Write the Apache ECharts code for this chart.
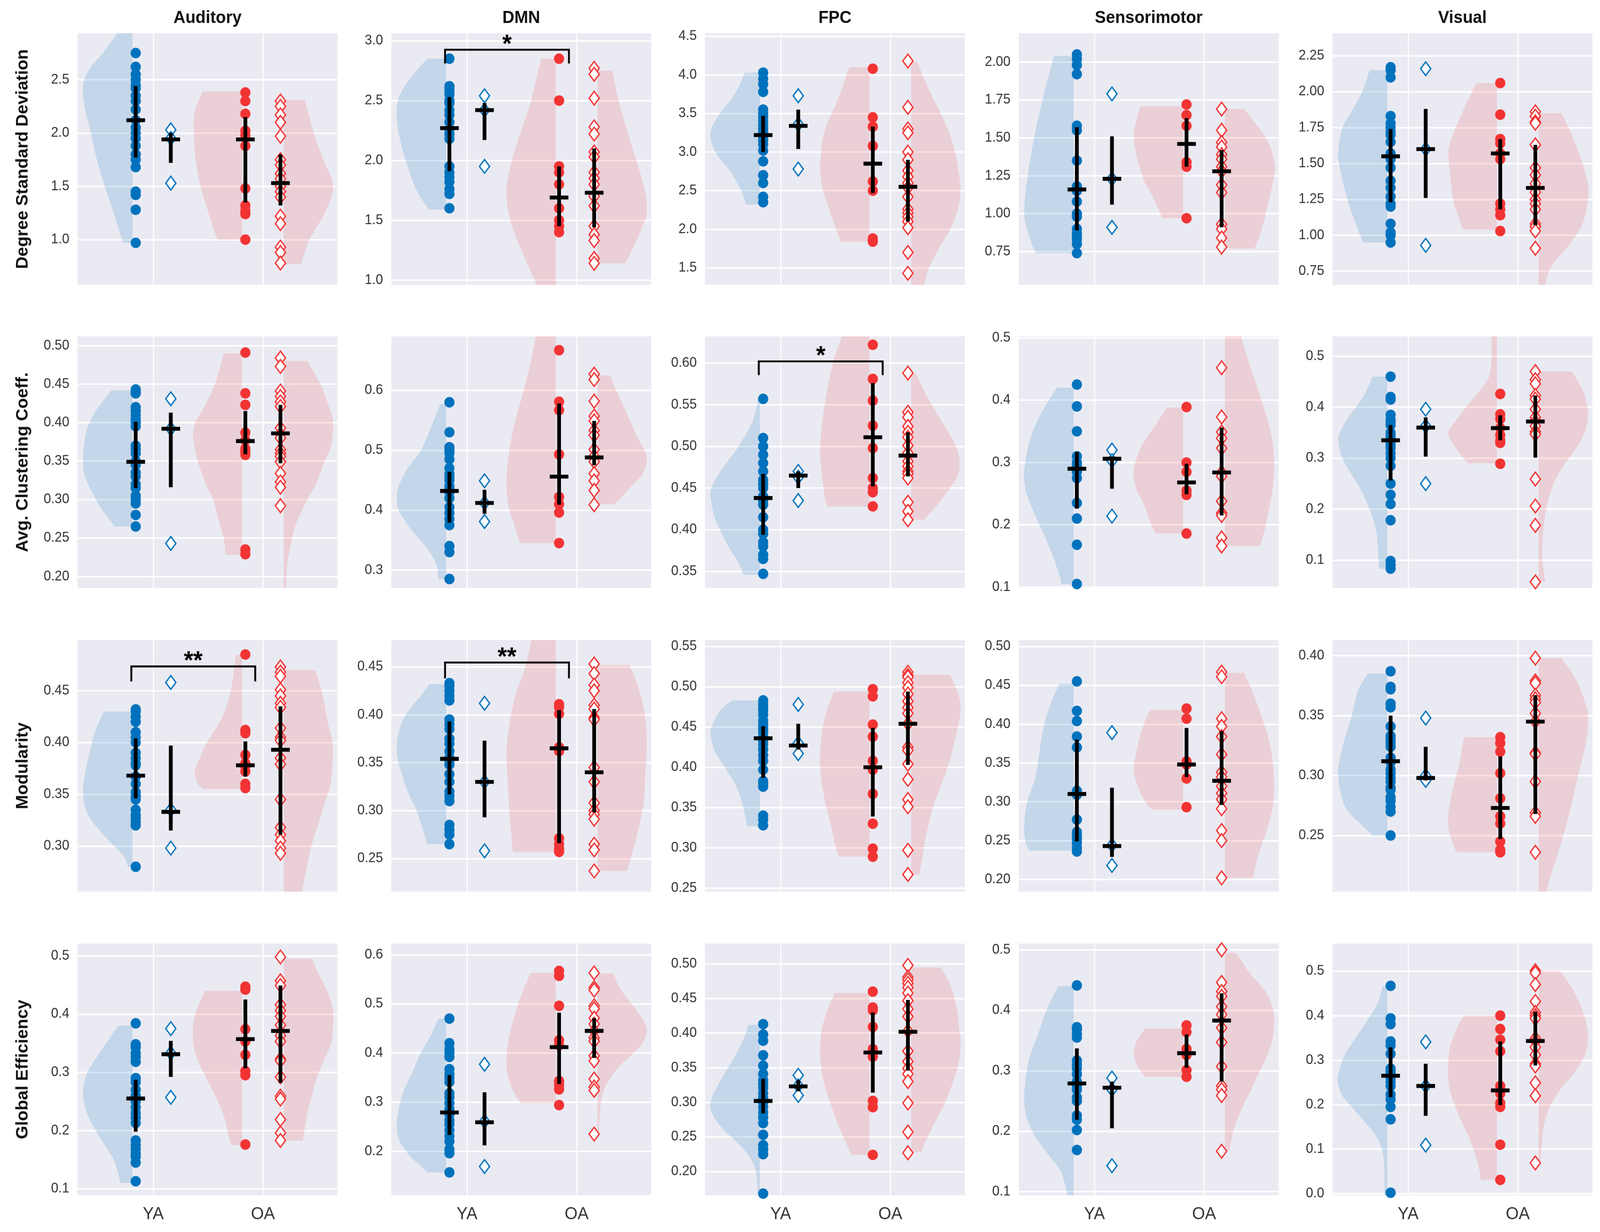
<!DOCTYPE html>
<html><head><meta charset="utf-8">
<script src="https://cdn.jsdelivr.net/npm/echarts@6/dist/echarts.min.js"></script>
<style>html,body{margin:0;padding:0;background:#fff;overflow:hidden}#c{width:4249px;height:3154px;transform-origin:0 0}</style>
</head><body><div id="c"></div>
<script>
// ---------- DATA (panel index p = row*5 + col) ----------
const networks = ['Auditory','DMN','FPC','Sensorimotor','Visual'];
const metrics = ['Degree Standard Deviation','Avg. Clustering Coeff.','Modularity','Global Efficiency'];
const groupLabels = ['YA','OA'];

const yRange = [
 [0.576,2.936],[0.96,3.063],[1.28,4.54],[0.531,2.19],[0.655,2.407],
 [0.185,0.512],[0.27,0.69],[0.33,0.632],[0.0986,0.5023],[0.045,0.539],
 [0.256,0.499],[0.2155,0.478],[0.2457,0.558],[0.1843,0.5083],[0.2032,0.4131],
 [0.089,0.521],[0.1106,0.6227],[0.1657,0.5295],[0.0943,0.5102],[-0.0035,0.562]];
const yTicks = [
 [1.0,1.5,2.0,2.5],[1.0,1.5,2.0,2.5,3.0],[1.5,2.0,2.5,3.0,3.5,4.0,4.5],[0.75,1.0,1.25,1.5,1.75,2.0],[0.75,1.0,1.25,1.5,1.75,2.0,2.25],
 [0.2,0.25,0.3,0.35,0.4,0.45,0.5],[0.3,0.4,0.5,0.6],[0.35,0.4,0.45,0.5,0.55,0.6],[0.1,0.2,0.3,0.4,0.5],[0.1,0.2,0.3,0.4,0.5],
 [0.3,0.35,0.4,0.45],[0.25,0.3,0.35,0.4,0.45],[0.25,0.3,0.35,0.4,0.45,0.5,0.55],[0.2,0.25,0.3,0.35,0.4,0.45,0.5],[0.25,0.3,0.35,0.4],
 [0.1,0.2,0.3,0.4,0.5],[0.2,0.3,0.4,0.5,0.6],[0.2,0.25,0.3,0.35,0.4,0.45,0.5],[0.1,0.2,0.3,0.4,0.5],[0.0,0.1,0.2,0.3,0.4,0.5]];
const yDecimals = [1,1,1,2,2, 2,1,2,1,1, 2,2,2,2,2, 1,1,2,1,1];

const yaCircles = [
 [2.75,2.62,2.55,2.5,2.45,2.42,2.35,2.3,2.22,2.12,2.05,2.0,1.95,1.88,1.8,1.75,1.68,1.45,1.42,1.28,0.97],
 [2.85,2.62,2.6,2.58,2.55,2.5,2.48,2.42,2.38,2.32,2.26,2.22,2.18,1.95,1.9,1.86,1.82,1.76,1.72,1.6],
 [4.03,3.95,3.88,3.78,3.55,3.5,3.45,3.4,3.35,3.3,3.25,3.2,3.15,3.1,3.02,2.88,2.7,2.6,2.42,2.35],
 [2.05,2.02,1.98,1.92,1.58,1.55,1.35,1.18,1.15,1.08,1.0,0.98,0.9,0.87,0.85,0.83,0.8,0.74],
 [2.17,2.15,2.1,1.83,1.78,1.75,1.72,1.7,1.65,1.57,1.53,1.47,1.38,1.33,1.27,1.22,1.2,1.08,1.02,1.0,0.95],
 [0.443,0.44,0.438,0.42,0.415,0.41,0.405,0.4,0.395,0.37,0.365,0.36,0.35,0.345,0.335,0.33,0.32,0.315,0.305,0.3,0.295,0.28,0.265],
 [0.58,0.53,0.505,0.5,0.495,0.485,0.47,0.46,0.455,0.45,0.44,0.435,0.43,0.42,0.405,0.395,0.385,0.375,0.34,0.33,0.285],
 [0.557,0.51,0.5,0.49,0.48,0.47,0.46,0.455,0.45,0.44,0.435,0.43,0.415,0.4,0.395,0.385,0.38,0.37,0.365,0.347],
 [0.425,0.39,0.35,0.31,0.3,0.295,0.285,0.275,0.235,0.21,0.168,0.105],
 [0.46,0.42,0.415,0.385,0.375,0.37,0.365,0.35,0.345,0.34,0.33,0.325,0.32,0.31,0.3,0.285,0.25,0.228,0.21,0.178,0.098,0.09,0.083],
 [0.432,0.43,0.425,0.42,0.41,0.405,0.4,0.39,0.385,0.38,0.378,0.367,0.36,0.352,0.348,0.345,0.335,0.33,0.327,0.323,0.32,0.28],
 [0.433,0.43,0.425,0.42,0.415,0.395,0.39,0.385,0.375,0.37,0.362,0.355,0.352,0.348,0.338,0.33,0.32,0.315,0.31,0.285,0.28,0.275,0.265],
 [0.483,0.478,0.473,0.47,0.465,0.458,0.453,0.448,0.444,0.438,0.433,0.428,0.422,0.415,0.408,0.397,0.383,0.38,0.376,0.34,0.335,0.328],
 [0.455,0.417,0.404,0.384,0.37,0.314,0.309,0.277,0.261,0.256,0.252,0.247,0.241,0.236],
 [0.387,0.374,0.372,0.36,0.357,0.341,0.333,0.33,0.327,0.324,0.315,0.311,0.305,0.302,0.298,0.295,0.29,0.288,0.282,0.279,0.274,0.27,0.25],
 [0.384,0.348,0.343,0.333,0.326,0.318,0.29,0.283,0.27,0.26,0.25,0.24,0.23,0.222,0.213,0.183,0.175,0.168,0.16,0.155,0.145,0.113],
 [0.47,0.42,0.408,0.4,0.392,0.367,0.357,0.349,0.341,0.318,0.31,0.298,0.286,0.275,0.263,0.255,0.243,0.231,0.22,0.204,0.196,0.157],
 [0.413,0.398,0.389,0.368,0.353,0.341,0.332,0.327,0.321,0.313,0.307,0.3,0.293,0.285,0.278,0.27,0.253,0.238,0.232,0.225,0.168],
 [0.441,0.372,0.368,0.361,0.355,0.317,0.31,0.304,0.294,0.282,0.275,0.269,0.256,0.25,0.226,0.219,0.202,0.169],
 [0.467,0.394,0.381,0.342,0.333,0.314,0.281,0.275,0.272,0.265,0.26,0.251,0.242,0.223,0.212,0.195,0.167,0.002]];

const yaDiamonds = [
 [2.03,1.95,1.53],[2.54,2.42,1.95],[3.73,3.36,2.78],[1.79,1.23,0.91],[2.16,1.6,0.93],
 [0.431,0.392,0.243],[0.449,0.412,0.381],[0.47,0.463,0.435],[0.32,0.303,0.214],[0.396,0.363,0.25],
 [0.458,0.335,0.298],[0.412,0.33,0.258],[0.478,0.43,0.417],[0.389,0.244,0.218],[0.348,0.3,0.296],
 [0.375,0.333,0.257],[0.377,0.261,0.169],[0.339,0.324,0.31],[0.288,0.269,0.143],[0.341,0.242,0.109]];

const oaCircles = [
 [2.38,2.30,2.18,2.02,1.98,1.88,1.48,1.32,1.27,1.24,1.00],
 [2.85,2.5,1.95,1.9,1.8,1.6,1.5,1.45,1.4],
 [4.08,3.45,3.33,3.08,2.62,2.5,1.88,1.84],
 [1.72,1.65,1.58,1.34,1.31,0.97],
 [2.06,1.84,1.67,1.64,1.57,1.53,1.22,1.18,1.14,1.03],
 [0.491,0.438,0.423,0.387,0.377,0.366,0.362,0.358,0.235,0.229],
 [0.667,0.581,0.567,0.493,0.422,0.41,0.396,0.345],
 [0.622,0.581,0.555,0.525,0.498,0.462,0.45,0.445,0.428],
 [0.389,0.3,0.285,0.255,0.248,0.186],
 [0.426,0.386,0.377,0.359,0.345,0.335,0.33,0.289],
 [0.485,0.412,0.409,0.388,0.38,0.377,0.372,0.36,0.356],
 [0.411,0.408,0.401,0.366,0.362,0.271,0.265,0.26,0.257],
 [0.497,0.488,0.453,0.438,0.408,0.397,0.367,0.33,0.299,0.289],
 [0.42,0.407,0.352,0.348,0.33,0.293],
 [0.332,0.327,0.32,0.302,0.281,0.266,0.26,0.245,0.238,0.236],
 [0.447,0.442,0.374,0.353,0.33,0.302,0.295,0.176],
 [0.567,0.557,0.496,0.426,0.416,0.343,0.335,0.326,0.294],
 [0.46,0.437,0.433,0.409,0.377,0.371,0.366,0.302,0.293,0.224],
 [0.375,0.364,0.336,0.326,0.301,0.29],
 [0.4,0.37,0.346,0.32,0.242,0.225,0.204,0.195,0.11,0.031]];

const oaDiamonds = [
 [2.3,2.25,2.17,2.1,1.97,1.75,1.7,1.62,1.57,1.5,1.45,1.4,1.22,1.15,0.93,0.88,0.78],
 [2.77,2.72,2.52,2.28,2.22,2.07,2.03,1.9,1.85,1.8,1.7,1.62,1.45,1.38,1.33,1.18,1.14],
 [4.18,3.58,3.3,3.25,3.0,2.9,2.76,2.68,2.6,2.54,2.42,2.26,2.21,2.16,2.1,2.02,1.7,1.43],
 [1.69,1.55,1.47,1.44,1.39,1.36,1.31,1.28,1.19,1.14,0.93,0.9,0.84,0.78],
 [1.86,1.83,1.79,1.78,1.63,1.47,1.42,1.36,1.3,1.25,1.22,1.18,1.08,1.06,1.03,0.91],
 [0.484,0.473,0.441,0.434,0.427,0.421,0.393,0.385,0.38,0.365,0.36,0.356,0.349,0.334,0.323,0.316,0.292],
 [0.627,0.618,0.582,0.557,0.549,0.533,0.525,0.501,0.49,0.481,0.461,0.449,0.433,0.409],
 [0.588,0.541,0.535,0.524,0.517,0.511,0.501,0.492,0.482,0.476,0.47,0.467,0.462,0.433,0.422,0.412],
 [0.452,0.373,0.349,0.339,0.323,0.284,0.278,0.238,0.219,0.215,0.179,0.166],
 [0.47,0.454,0.446,0.423,0.416,0.396,0.38,0.372,0.363,0.352,0.347,0.259,0.206,0.168,0.057],
 [0.473,0.468,0.464,0.451,0.445,0.438,0.434,0.414,0.405,0.402,0.385,0.379,0.345,0.318,0.311,0.305,0.298,0.293],
 [0.453,0.443,0.431,0.425,0.41,0.406,0.397,0.395,0.345,0.33,0.308,0.3,0.296,0.291,0.265,0.259,0.237],
 [0.518,0.514,0.512,0.505,0.499,0.491,0.482,0.474,0.467,0.454,0.425,0.421,0.404,0.385,0.36,0.351,0.297,0.267],
 [0.467,0.461,0.407,0.397,0.384,0.361,0.338,0.332,0.32,0.311,0.303,0.291,0.263,0.25,0.202],
 [0.398,0.379,0.377,0.367,0.364,0.361,0.352,0.345,0.319,0.318,0.295,0.269,0.266,0.236,0.203],
 [0.498,0.457,0.449,0.416,0.406,0.396,0.381,0.363,0.353,0.323,0.32,0.292,0.259,0.254,0.219,0.196,0.183],
 [0.563,0.533,0.528,0.496,0.49,0.471,0.459,0.445,0.431,0.424,0.394,0.384,0.347,0.331,0.324,0.235],
 [0.498,0.481,0.477,0.472,0.466,0.458,0.447,0.435,0.424,0.403,0.374,0.359,0.349,0.341,0.33,0.299,0.257,0.227],
 [0.5,0.446,0.431,0.423,0.406,0.393,0.371,0.347,0.307,0.275,0.269,0.259,0.167],
 [0.501,0.496,0.47,0.432,0.407,0.4,0.394,0.349,0.342,0.329,0.312,0.292,0.287,0.249,0.22,0.069]];

// [centre, low, high] of the black bars
const yaCircleStats = [
 [2.12,1.77,2.44],[2.27,1.91,2.53],[3.22,3.0,3.47],[1.16,0.89,1.57],[1.55,1.23,1.74],
 [0.349,0.315,0.401],[0.432,0.379,0.464],[0.438,0.394,0.467],[0.29,0.226,0.317],[0.335,0.256,0.365],
 [0.368,0.346,0.404],[0.354,0.317,0.393],[0.436,0.387,0.451],[0.31,0.249,0.38],[0.312,0.289,0.35],
 [0.255,0.198,0.287],[0.279,0.233,0.355],[0.302,0.284,0.334],[0.279,0.219,0.337],[0.265,0.217,0.329]];
const yaDiamondStats = [
 [1.94,1.72,2.0],[2.42,2.17,2.48],[3.34,3.04,3.55],[1.23,1.06,1.51],[1.6,1.26,1.88],
 [0.392,0.316,0.413],[0.412,0.394,0.434],[0.465,0.45,0.47],[0.306,0.258,0.31],[0.36,0.303,0.38],
 [0.333,0.315,0.397],[0.33,0.293,0.373],[0.427,0.422,0.454],[0.243,0.229,0.318],[0.298,0.296,0.324],
 [0.331,0.292,0.354],[0.259,0.212,0.32],[0.323,0.316,0.332],[0.272,0.205,0.282],[0.242,0.175,0.292]];
const oaCircleStats = [
 [1.94,1.35,2.15],[1.69,1.45,1.95],[2.85,2.47,3.33],[1.46,1.31,1.63],[1.57,1.18,1.67],
 [0.376,0.359,0.415],[0.456,0.409,0.578],[0.511,0.452,0.576],[0.268,0.249,0.298],[0.359,0.335,0.384],
 [0.378,0.367,0.401],[0.365,0.266,0.405],[0.4,0.339,0.449],[0.348,0.332,0.395],[0.273,0.247,0.316],
 [0.357,0.307,0.425],[0.412,0.337,0.482],[0.372,0.314,0.43],[0.329,0.305,0.36],[0.232,0.199,0.342]];
const oaDiamondStats = [
 [1.53,1.32,1.8],[1.73,1.44,2.1],[2.55,2.1,2.9],[1.28,0.91,1.42],[1.33,1.07,1.63],
 [0.386,0.347,0.423],[0.488,0.475,0.549],[0.489,0.464,0.517],[0.284,0.215,0.356],[0.372,0.301,0.423],
 [0.393,0.311,0.435],[0.34,0.298,0.406],[0.454,0.403,0.494],[0.327,0.296,0.391],[0.345,0.268,0.367],
 [0.371,0.282,0.449],[0.445,0.39,0.471],[0.402,0.346,0.448],[0.383,0.282,0.428],[0.343,0.288,0.409]];

// violin density profiles: [value, relative width]
const yaViolin = [
 [[0.97,0.19],[1.25,0.38],[1.5,0.56],[1.75,0.72],[2.0,0.84],[2.25,0.97],[2.45,1.0],[2.6,0.87],[2.75,0.6],[2.94,0.3],[3.05,0.15]],
 [[1.59,0.35],[1.75,0.6],[2.0,0.82],[2.25,0.97],[2.45,1.0],[2.6,0.87],[2.75,0.6],[2.85,0.38]],
 [[2.32,0.28],[2.5,0.38],[2.75,0.6],[3.0,0.9],[3.25,1.0],[3.5,0.81],[3.75,0.51],[4.03,0.3]],
 [[0.74,0.77],[0.85,0.9],[1.0,1.0],[1.25,0.93],[1.5,0.8],[1.75,0.63],[2.04,0.4]],
 [[0.95,0.49],[1.0,0.55],[1.1,0.66],[1.25,0.81],[1.5,0.98],[1.6,0.99],[1.75,0.91],[1.85,0.74],[2.0,0.51],[2.15,0.36]],
 [[0.265,0.36],[0.29,0.65],[0.31,0.82],[0.33,0.96],[0.35,1.0],[0.38,0.96],[0.40,0.87],[0.42,0.69],[0.442,0.42]],
 [[0.285,0.16],[0.31,0.2],[0.34,0.42],[0.37,0.73],[0.40,0.96],[0.42,1.0],[0.44,0.96],[0.47,0.78],[0.50,0.51],[0.55,0.25],[0.577,0.12]],
 [[0.346,0.34],[0.36,0.43],[0.38,0.64],[0.40,0.81],[0.42,0.94],[0.445,1.0],[0.46,0.9],[0.48,0.68],[0.50,0.43],[0.53,0.15],[0.557,0.03]],
 [[0.105,0.25],[0.12,0.29],[0.16,0.47],[0.20,0.69],[0.24,0.91],[0.27,1.0],[0.30,0.98],[0.34,0.87],[0.38,0.65],[0.42,0.34]],
 [[0.083,0.17],[0.12,0.19],[0.16,0.23],[0.20,0.36],[0.24,0.55],[0.27,0.74],[0.30,0.91],[0.33,0.99],[0.35,0.96],[0.38,0.79],[0.42,0.49],[0.46,0.3]],
 [[0.28,0.09],[0.29,0.17],[0.30,0.37],[0.31,0.57],[0.33,0.9],[0.35,1.0],[0.37,0.96],[0.39,0.87],[0.41,0.76],[0.43,0.58]],
 [[0.265,0.38],[0.28,0.47],[0.30,0.6],[0.32,0.78],[0.34,0.91],[0.36,1.0],[0.38,0.97],[0.40,0.82],[0.42,0.51],[0.432,0.34]],
 [[0.327,0.26],[0.34,0.3],[0.36,0.38],[0.38,0.51],[0.40,0.71],[0.42,0.91],[0.44,1.0],[0.45,0.98],[0.47,0.81],[0.483,0.56]],
 [[0.237,0.9],[0.25,0.98],[0.27,1.0],[0.30,0.94],[0.33,0.78],[0.36,0.7],[0.39,0.63],[0.42,0.5],[0.452,0.29]],
 [[0.25,0.3],[0.26,0.55],[0.27,0.79],[0.28,0.91],[0.30,1.0],[0.31,0.98],[0.33,0.87],[0.35,0.72],[0.37,0.6],[0.385,0.4]],
 [[0.11,0.25],[0.12,0.27],[0.15,0.38],[0.18,0.6],[0.21,0.81],[0.24,0.96],[0.27,1.0],[0.30,0.91],[0.33,0.69],[0.36,0.45],[0.38,0.29]],
 [[0.157,0.38],[0.17,0.51],[0.19,0.73],[0.22,0.94],[0.25,1.0],[0.28,0.97],[0.32,0.87],[0.36,0.69],[0.40,0.51],[0.44,0.29],[0.47,0.16]],
 [[0.15,0.03],[0.17,0.04],[0.20,0.08],[0.22,0.2],[0.24,0.43],[0.26,0.73],[0.28,0.94],[0.30,1.0],[0.33,0.81],[0.36,0.56],[0.39,0.34],[0.412,0.23]],
 [[0.08,0.09],[0.13,0.24],[0.16,0.5],[0.19,0.77],[0.22,0.94],[0.25,1.0],[0.28,0.98],[0.32,0.9],[0.36,0.72],[0.40,0.55],[0.44,0.31]],
 [[-0.02,0.06],[0.06,0.06],[0.10,0.11],[0.13,0.23],[0.16,0.45],[0.19,0.68],[0.22,0.91],[0.25,1.0],[0.27,0.99],[0.31,0.87],[0.35,0.64],[0.39,0.4],[0.43,0.19],[0.467,0.09]]];
const oaViolin = [
 [[1.0,0.5],[1.25,0.68],[1.5,0.84],[1.75,0.94],[2.0,0.98],[2.2,0.96],[2.39,0.8]],
 [[0.85,0.33],[1.0,0.43],[1.25,0.7],[1.5,0.92],[1.75,1.0],[2.0,0.89],[2.25,0.7],[2.5,0.5],[2.85,0.3]],
 [[1.84,0.58],[2.0,0.68],[2.25,0.81],[2.5,0.94],[2.75,1.0],[3.0,0.98],[3.25,0.92],[3.5,0.77],[3.75,0.6],[4.1,0.41]],
 [[0.97,0.42],[1.1,0.6],[1.25,0.83],[1.5,1.0],[1.71,0.87]],
 [[1.04,0.69],[1.15,0.8],[1.25,0.89],[1.5,0.97],[1.6,0.98],[1.7,0.89],[1.85,0.71],[2.06,0.42]],
 [[0.228,0.33],[0.25,0.37],[0.27,0.46],[0.30,0.59],[0.32,0.73],[0.35,0.9],[0.38,0.99],[0.40,0.95],[0.42,0.77],[0.45,0.55],[0.49,0.37]],
 [[0.345,0.73],[0.37,0.82],[0.40,0.94],[0.42,0.98],[0.45,1.0],[0.50,0.94],[0.55,0.82],[0.60,0.65],[0.65,0.5],[0.72,0.34]],
 [[0.428,0.85],[0.44,0.91],[0.47,0.97],[0.50,1.0],[0.55,0.91],[0.60,0.74],[0.65,0.45]],
 [[0.186,0.56],[0.20,0.65],[0.23,0.78],[0.26,0.96],[0.29,1.0],[0.33,0.82],[0.36,0.56],[0.388,0.34]],
 [[0.29,0.59],[0.31,0.76],[0.33,0.9],[0.35,0.99],[0.37,0.86],[0.40,0.63],[0.43,0.37],[0.46,0.16],[0.50,0.11],[0.57,0.12]],
 [[0.355,0.78],[0.36,0.89],[0.37,0.96],[0.38,0.9],[0.40,0.71],[0.42,0.45],[0.44,0.28],[0.46,0.19],[0.485,0.13]],
 [[0.257,0.87],[0.28,0.91],[0.30,0.94],[0.33,0.97],[0.36,1.0],[0.39,0.94],[0.42,0.82],[0.45,0.62],[0.50,0.4]],
 [[0.289,0.63],[0.30,0.68],[0.33,0.79],[0.36,0.91],[0.40,1.0],[0.44,0.97],[0.47,0.87],[0.494,0.72]],
 [[0.29,0.63],[0.30,0.77],[0.32,0.92],[0.34,1.0],[0.36,0.96],[0.39,0.85],[0.418,0.68]],
 [[0.236,0.82],[0.24,0.86],[0.25,0.95],[0.26,0.99],[0.27,0.98],[0.29,0.89],[0.31,0.76],[0.332,0.67]],
 [[0.175,0.22],[0.19,0.27],[0.22,0.35],[0.25,0.49],[0.28,0.66],[0.31,0.84],[0.34,0.97],[0.37,1.0],[0.40,0.95],[0.44,0.75]],
 [[0.298,0.71],[0.32,0.85],[0.35,0.96],[0.38,1.0],[0.42,0.97],[0.46,0.88],[0.50,0.76],[0.53,0.65],[0.563,0.51]],
 [[0.224,0.36],[0.25,0.53],[0.28,0.7],[0.31,0.85],[0.34,0.96],[0.37,1.0],[0.40,0.98],[0.43,0.87],[0.458,0.7]],
 [[0.29,0.78],[0.31,0.94],[0.33,1.0],[0.35,0.94],[0.37,0.77]],
 [[0.031,0.33],[0.05,0.35],[0.08,0.42],[0.12,0.54],[0.16,0.71],[0.20,0.86],[0.23,0.95],[0.26,0.99],[0.29,0.99],[0.33,0.95],[0.37,0.82],[0.40,0.67]]];
const oaDiamondViolin = [
 [[0.77,0.35],[1.0,0.52],[1.25,0.83],[1.5,1.0],[1.75,0.8],[2.0,0.61],[2.31,0.43]],
 [[1.14,0.56],[1.25,0.7],[1.5,0.96],[1.6,1.0],[1.75,0.96],[2.0,0.79],[2.25,0.6],[2.5,0.43],[2.75,0.3]],
 [[1.15,0.2],[1.28,0.26],[1.5,0.36],[1.75,0.56],[2.0,0.79],[2.25,0.94],[2.5,1.0],[2.75,0.96],[3.0,0.89],[3.25,0.77],[3.5,0.6],[3.75,0.4],[4.0,0.23],[4.17,0.12]],
 [[0.77,0.6],[0.85,0.7],[1.0,0.83],[1.25,1.0],[1.35,1.0],[1.5,0.83],[1.69,0.39]],
 [[0.6,0.15],[0.7,0.16],[0.8,0.29],[0.9,0.54],[1.0,0.76],[1.1,0.91],[1.25,1.0],[1.35,1.0],[1.5,0.89],[1.7,0.67],[1.85,0.46]],
 [[0.17,0.03],[0.185,0.04],[0.22,0.08],[0.25,0.17],[0.27,0.26],[0.30,0.48],[0.32,0.65],[0.35,0.83],[0.37,0.96],[0.40,1.0],[0.42,0.92],[0.45,0.74],[0.48,0.48]],
 [[0.41,0.34],[0.42,0.47],[0.44,0.69],[0.46,0.91],[0.49,1.0],[0.52,0.82],[0.56,0.6],[0.60,0.38],[0.625,0.25]],
 [[0.412,0.26],[0.43,0.53],[0.45,0.79],[0.465,0.94],[0.48,0.98],[0.50,0.91],[0.53,0.62],[0.56,0.32],[0.587,0.1]],
 [[0.166,0.71],[0.19,0.8],[0.22,0.88],[0.26,0.97],[0.30,1.0],[0.34,0.95],[0.38,0.82],[0.42,0.66],[0.46,0.49],[0.53,0.22]],
 [[0.058,0.14],[0.08,0.1],[0.12,0.07],[0.18,0.12],[0.22,0.2],[0.26,0.35],[0.29,0.54],[0.32,0.76],[0.35,0.93],[0.38,1.0],[0.41,0.97],[0.44,0.86],[0.47,0.67]],
 [[0.24,0.33],[0.256,0.37],[0.28,0.47],[0.30,0.56],[0.32,0.69],[0.34,0.82],[0.36,0.95],[0.38,0.99],[0.40,0.99],[0.42,0.89],[0.45,0.77],[0.47,0.63]],
 [[0.237,0.6],[0.26,0.73],[0.29,0.87],[0.31,0.94],[0.34,0.97],[0.37,1.0],[0.40,0.96],[0.43,0.82],[0.452,0.65]],
 [[0.267,0.17],[0.29,0.23],[0.32,0.32],[0.35,0.44],[0.38,0.62],[0.41,0.79],[0.44,0.91],[0.47,1.0],[0.49,0.96],[0.515,0.79]],
 [[0.202,0.57],[0.23,0.67],[0.26,0.83],[0.29,0.96],[0.32,1.0],[0.35,0.97],[0.38,0.89],[0.41,0.74],[0.44,0.57],[0.466,0.39]],
 [[0.19,0.12],[0.21,0.2],[0.23,0.35],[0.25,0.5],[0.27,0.63],[0.30,0.8],[0.33,0.97],[0.35,1.0],[0.36,0.95],[0.38,0.76],[0.398,0.46]],
 [[0.183,0.39],[0.20,0.42],[0.23,0.48],[0.26,0.57],[0.29,0.67],[0.32,0.81],[0.35,0.96],[0.38,1.0],[0.41,0.99],[0.44,0.88],[0.47,0.7],[0.495,0.57]],
 [[0.237,0.02],[0.25,0.03],[0.28,0.05],[0.31,0.09],[0.34,0.2],[0.37,0.42],[0.40,0.73],[0.42,0.91],[0.445,1.0],[0.47,0.91],[0.50,0.69],[0.53,0.47],[0.562,0.32]],
 [[0.228,0.2],[0.24,0.27],[0.26,0.4],[0.29,0.62],[0.32,0.8],[0.35,0.94],[0.38,1.0],[0.41,0.97],[0.44,0.91],[0.47,0.79],[0.495,0.6]],
 [[0.168,0.09],[0.20,0.17],[0.23,0.3],[0.26,0.48],[0.29,0.65],[0.32,0.83],[0.35,0.96],[0.38,1.0],[0.40,0.98],[0.43,0.83],[0.46,0.52],[0.495,0.22]],
 [[0.068,0.03],[0.08,0.04],[0.12,0.07],[0.16,0.12],[0.20,0.25],[0.24,0.48],[0.27,0.71],[0.31,0.93],[0.35,1.0],[0.39,0.95],[0.43,0.82],[0.47,0.63],[0.50,0.44]]];

// significance brackets
const bracketPanel = [1, 7, 10, 11];
const bracketLevel = [2.925, 0.602, 0.4735, 0.4545];
const bracketDrop = [2.81, 0.5855, 0.459, 0.438];
const bracketLabel = ['*', '*', '**', '**'];

// ---------- STYLE / LAYOUT ----------
const FONT = 'Arial, "Liberation Sans", Helvetica, sans-serif';
const BLUE = '#0072BD', RED = '#F23333';
const BLUE_FILL = 'rgba(0,114,189,0.16)', RED_FILL = 'rgba(242,51,51,0.15)';
const GL = 206, GSTEP = 833, GW = 690, GH = 644, ROWTOP = [85, 861, 1638, 2415];
const XMIN = -0.69, XMAX = 1.68;
const XPOS = [-0.16, 0.16, 0.84, 1.16];       // YA circles, YA diamonds, OA circles, OA diamonds
const VBASE = [-0.19, 0.81, 1.19], VDIR = [-1, -1, 1], VHALF = 0.45;
const BAR_HALF = 0.085, BR_X = [-0.2, 0.93];

const grid = [], xAxis = [], yAxis = [], series = [], graphic = [];
const violinSets = [yaViolin, oaViolin, oaDiamondViolin];

function smoothPath(pts) {
  let d = '';
  for (let i = 0; i < pts.length - 1; i++) {
    const p0 = pts[Math.max(i - 1, 0)], p1 = pts[i], p2 = pts[i + 1], p3 = pts[Math.min(i + 2, pts.length - 1)];
    const c1 = [p1[0] + (p2[0] - p0[0]) / 6, p1[1] + (p2[1] - p0[1]) / 6];
    const c2 = [p2[0] - (p3[0] - p1[0]) / 6, p2[1] - (p3[1] - p1[1]) / 6];
    d += ` C${c1[0]},${c1[1]} ${c2[0]},${c2[1]} ${p2[0]},${p2[1]}`;
  }
  return d;
}

for (let r = 0; r < 4; r++) {
  for (let c = 0; c < 5; c++) {
    const p = r * 5 + c;
    const L = GL + c * GSTEP, T = ROWTOP[r];
    grid.push({left: L, top: T, width: GW, height: GH, show: true, backgroundColor: '#EAEAF2', borderWidth: 0});
    xAxis.push({
      type: 'value', gridIndex: p, min: XMIN, max: XMAX,
      axisLine: {show: false}, axisTick: {show: false, customValues: [0, 1]},
      axisLabel: {show: r === 3, customValues: [0, 1], formatter: v => groupLabels[Math.round(v)],
        fontSize: 44, color: '#333', margin: 49, verticalAlign: 'middle', fontFamily: FONT},
      splitLine: {show: true, lineStyle: {color: '#ffffff', width: 3}}
    });
    yAxis.push({
      type: 'value', gridIndex: p, min: yRange[p][0], max: yRange[p][1],
      axisLine: {show: false}, axisTick: {show: false, customValues: yTicks[p]},
      axisLabel: {customValues: yTicks[p], formatter: v => Number(v).toFixed(yDecimals[p]),
        fontSize: 35, color: '#333', margin: 22, fontFamily: FONT},
      splitLine: {show: true, lineStyle: {color: '#ffffff', width: 4}}
    });
    const mid = (yRange[p][0] + yRange[p][1]) / 2;
    series.push({
      type: 'custom', xAxisIndex: p, yAxisIndex: p, clip: true, silent: true, z: 1,
      data: [[VBASE[0], mid, 0], [VBASE[1], mid, 1], [VBASE[2], mid, 2]],
      renderItem: (params, api) => {
        const k = api.value(2), base = api.value(0);
        const prof = violinSets[k][p];
        const pts = prof.map(([y, w]) => api.coord([base + VDIR[k] * w * VHALF, y]));
        const b0 = api.coord([base, prof[0][0]]), b1 = api.coord([base, prof[prof.length - 1][0]]);
        const d = `M${b0[0]},${b0[1]} L${pts[0][0]},${pts[0][1]}` + smoothPath(pts) + ` L${b1[0]},${b1[1]} Z`;
        return {type: 'path', shape: {pathData: d}, style: {fill: k === 0 ? BLUE_FILL : RED_FILL, stroke: null}};
      }
    });
    const circ = (vals, x, col) => ({type: 'scatter', xAxisIndex: p, yAxisIndex: p, silent: true, z: 3,
      symbol: 'circle', symbolSize: 27, itemStyle: {color: col, opacity: 1}, data: vals.map(v => [x, v])});
    const diam = (vals, x, col) => ({type: 'scatter', xAxisIndex: p, yAxisIndex: p, silent: true, z: 3,
      symbol: 'diamond', symbolSize: [27, 35], itemStyle: {color: '#ffffff', borderColor: col, borderWidth: 3.5, opacity: 1},
      data: vals.map(v => [x, v])});
    series.push(circ(yaCircles[p], XPOS[0], BLUE));
    series.push(diam(yaDiamonds[p], XPOS[1], BLUE));
    series.push(circ(oaCircles[p], XPOS[2], RED));
    series.push(diam(oaDiamonds[p], XPOS[3], RED));
    const st = [yaCircleStats[p], yaDiamondStats[p], oaCircleStats[p], oaDiamondStats[p]];
    series.push({
      type: 'custom', xAxisIndex: p, yAxisIndex: p, silent: true, z: 5, clip: false,
      data: st.map((s, i) => [XPOS[i], s[0], s[1], s[2]]),
      renderItem: (params, api) => {
        const x = api.value(0), cv = api.value(1), lo = api.value(2), hi = api.value(3);
        const a = api.coord([x, lo]), b = api.coord([x, hi]);
        const h0 = api.coord([x - BAR_HALF, cv]), h1 = api.coord([x + BAR_HALF, cv]);
        return {type: 'group', children: [
          {type: 'line', shape: {x1: a[0], y1: a[1], x2: b[0], y2: b[1]}, style: {stroke: '#000', lineWidth: 10}},
          {type: 'line', shape: {x1: h0[0], y1: h0[1], x2: h1[0], y2: h1[1]}, style: {stroke: '#000', lineWidth: 10}}
        ]};
      }
    });
    const bi = bracketPanel.indexOf(p);
    if (bi >= 0) {
      series.push({
        type: 'custom', xAxisIndex: p, yAxisIndex: p, silent: true, z: 6, clip: false,
        data: [[BR_X[0], bracketLevel[bi], BR_X[1], bracketDrop[bi]]],
        renderItem: (params, api) => {
          const x1 = api.value(0), y = api.value(1), x2 = api.value(2), yd = api.value(3);
          const l = api.coord([x1, y]), rr = api.coord([x2, y]);
          const ld = api.coord([x1, yd]), rd = api.coord([x2, yd]);
          return {type: 'group', children: [
            {type: 'polyline', shape: {points: [ld, l, rr, rd]}, style: {stroke: '#000', lineWidth: 5, fill: null}},
            {type: 'text', style: {text: bracketLabel[bi], x: (l[0] + rr[0]) / 2, y: l[1] - 12,
              align: 'center', verticalAlign: 'middle', fontSize: 64, fontWeight: 'bold', fontFamily: FONT, fill: '#000'}}
          ]};
        }
      });
    }
    if (r === 0) {
      graphic.push({type: 'text', x: L + GW / 2, y: 47, silent: true,
        style: {text: networks[c], fontSize: 44, fontWeight: 'bold', fontFamily: FONT, fill: '#111', align: 'center', verticalAlign: 'middle'}});
    }
    if (c === 0) {
      graphic.push({type: 'text', x: 61, y: T + GH / 2, rotation: Math.PI / 2, silent: true,
        style: {text: metrics[r], fontSize: 44, fontWeight: 'bold', fontFamily: FONT, fill: '#111', align: 'center', verticalAlign: 'middle'}});
    }
  }
}

// fit the 4249x3154 drawing into whatever CSS viewport the browser really has
const el = document.getElementById('c');
const vw = window.innerWidth || 4249, vh = window.innerHeight || 3154;
const kx = vw / 4249, ky = vh / 3154;
if (Math.abs(kx - 1) > 0.001 || Math.abs(ky - 1) > 0.001) {
  el.style.transform = `scale(${kx}, ${ky})`;
}
const chart = echarts.init(el, null, {renderer: 'canvas', width: 4249, height: 3154,
  devicePixelRatio: Math.max(1, (window.devicePixelRatio || 1) * Math.max(1 / kx, 1 / ky))});
chart.setOption({
  backgroundColor: '#ffffff', animation: false,
  grid, xAxis, yAxis, series, graphic
});
</script>
</body></html>
